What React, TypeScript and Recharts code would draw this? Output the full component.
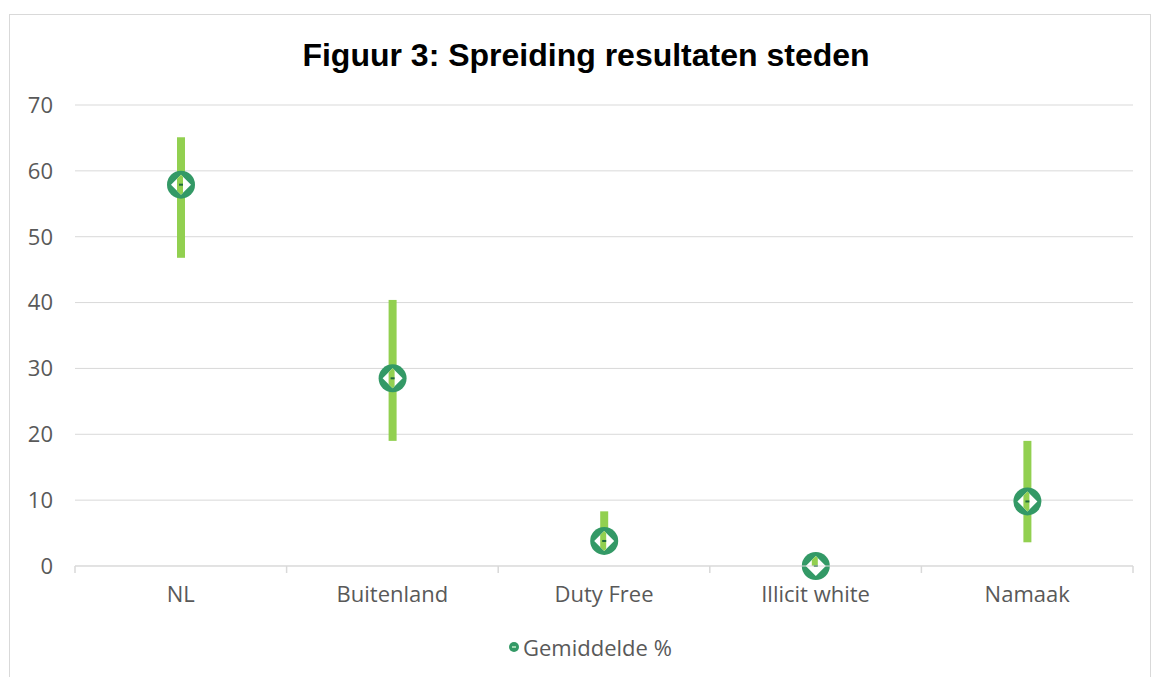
import React from "react";
import {
  ComposedChart,
  Bar,
  XAxis,
  YAxis,
  CartesianGrid,
} from "recharts";

const categories = ["NL", "Buitenland", "Duty Free", "Illicit white", "Namaak"];
const minValues = [46.8, 19.0, 2.3, 0, 3.6];
const maxValues = [65.1, 40.4, 8.3, 1.5, 19.0];
const meanValues = [57.9, 28.5, 3.8, 0, 9.8];
const yTicks = [0, 10, 20, 30, 40, 50, 60, 70];

const data = categories.map((name, i) => ({
  name,
  range: [minValues[i], maxValues[i]],
  min: minValues[i],
  max: maxValues[i],
  mean: meanValues[i],
}));

const BAR = "#92d050";
const RING = "#339966";
const TEXT = "#595959";
const GRID = "#d9d9d9";
const FONT = "'Open Sans', sans-serif";
const X_MARGIN = 20;

// range bar + mean marker (ring, white diamond, bar showing through)
function RangeShape(props: any) {
  const { x, width, payload, index } = props;
  let y = props.y;
  let h = props.height;
  if (h < 0) {
    y = y + h;
    h = -h;
  }
  const cx = x + width / 2;
  const span = payload.max - payload.min;
  const cy = span > 0 ? y + (h * (payload.max - payload.mean)) / span : y + h;
  const d = 10;
  const diamond = `${cx},${cy - d} ${cx + d},${cy} ${cx},${cy + d} ${cx - d},${cy}`;
  const clipId = `dia-${index}`;
  return (
    <g>
      <rect x={x} y={y} width={width} height={h} fill={BAR} />
      <circle cx={cx} cy={cy} r={14} fill={RING} />
      <polygon points={diamond} fill="#ffffff" />
      <clipPath id={clipId}>
        <polygon points={diamond} />
      </clipPath>
      <rect x={x} y={y} width={width - 2} height={h} fill={BAR} clipPath={`url(#${clipId})`} />
      <rect x={cx - 2} y={cy - 1} width={4} height={2} fill="#1f6b3c" />
    </g>
  );
}

// category label plus tick marks on the category boundaries
function CategoryTick(props: any) {
  const { x, y, payload, width, visibleTicksCount, index } = props;
  const band = width / visibleTicksCount;
  const axisY = y - X_MARGIN;
  const left = x - band / 2;
  const right = x + band / 2;
  return (
    <g>
      <line x1={left} x2={left} y1={axisY} y2={axisY + 7} stroke={GRID} strokeWidth={1.5} />
      {index === visibleTicksCount - 1 && (
        <line x1={right} x2={right} y1={axisY} y2={axisY + 7} stroke={GRID} strokeWidth={1.5} />
      )}
      <text
        x={x}
        y={y}
        dy="0.71em"
        textAnchor="middle"
        fill={TEXT}
        fontSize={22}
        fontFamily={FONT}
      >
        {payload.value}
      </text>
    </g>
  );
}

export default function App() {
  return (
    <div
      style={{
        position: "absolute",
        left: 0,
        top: 0,
        width: 1151,
        height: 677,
        overflow: "hidden",
        background: "#fff",
      }}
    >
      <div
        style={{
          position: "absolute",
          left: 9,
          top: 14,
          width: 1140,
          height: 663,
          borderTop: "1px solid #d9d9d9",
          borderLeft: "1px solid #d9d9d9",
          borderRight: "1px solid #d9d9d9",
        }}
      />
      <div
        style={{
          position: "absolute",
          left: 9,
          top: 37,
          width: 1154,
          textAlign: "center",
          fontFamily: "'Liberation Sans', Arial, sans-serif",
          fontWeight: 700,
          fontSize: 32,
          color: "#000",
        }}
      >
        Figuur 3: Spreiding resultaten steden
      </div>
      <div style={{ position: "absolute", left: 0, top: 0 }}>
        <ComposedChart
          width={1151}
          height={677}
          data={data}
          margin={{ top: 105, right: 18, bottom: 71, left: 0 }}
        >
          <CartesianGrid vertical={false} stroke={GRID} strokeWidth={1} />
          <XAxis
            dataKey="name"
            height={40}
            axisLine={{ stroke: GRID }}
            tickLine={false}
            tickSize={0}
            tickMargin={X_MARGIN}
            tick={<CategoryTick />}
            interval={0}
          />
          <YAxis
            domain={[0, 70]}
            ticks={yTicks}
            width={75}
            axisLine={false}
            tickLine={false}
            tickSize={0}
            tickMargin={22}
            tick={{ fill: TEXT, fontSize: 22, fontFamily: FONT }}
          />
          <Bar
            dataKey="range"
            barSize={8}
            fill={BAR}
            shape={RangeShape}
            isAnimationActive={false}
          />
        </ComposedChart>
      </div>
      <div
        style={{
          position: "absolute",
          left: 508,
          top: 632,
          display: "flex",
          alignItems: "center",
          fontFamily: FONT,
          fontSize: 22,
          color: TEXT,
        }}
      >
        <svg width={12} height={12} style={{ marginRight: 3 }}>
          <circle cx={6} cy={6} r={5} fill={RING} />
          <rect x={4} y={5} width={4} height={2} fill="#9fd8b0" />
        </svg>
        Gemiddelde %
      </div>
    </div>
  );
}
